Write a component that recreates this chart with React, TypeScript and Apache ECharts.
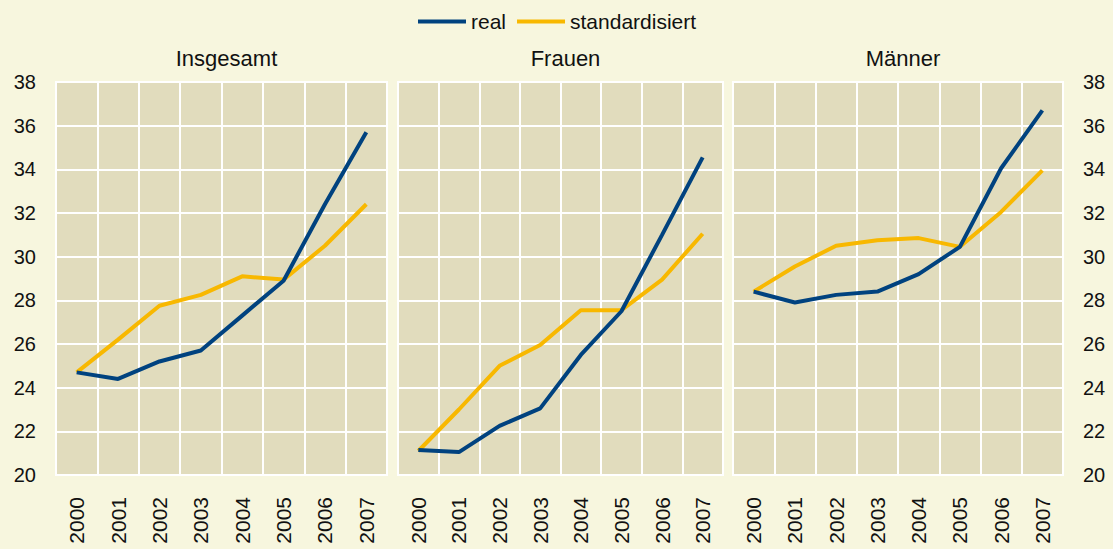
import React, { useEffect, useRef } from "react";
import * as echarts from "echarts";

const years = ["2000", "2001", "2002", "2003", "2004", "2005", "2006", "2007"];
const panelTitles = ["Insgesamt", "Frauen", "Männer"];
const seriesNames = ["real", "standardisiert"];

const insgesamtReal = [24.7, 24.4, 25.2, 25.7, 27.3, 28.9, 32.4, 35.7];
const insgesamtStd = [24.7, 26.2, 27.75, 28.25, 29.1, 28.95, 30.5, 32.4];
const frauenReal = [21.15, 21.05, 22.25, 23.05, 25.5, 27.5, 31.0, 34.55];
const frauenStd = [21.1, 23.0, 25.0, 25.95, 27.55, 27.55, 28.95, 31.05];
const maennerReal = [28.4, 27.9, 28.25, 28.4, 29.2, 30.45, 34.05, 36.7];
const maennerStd = [28.4, 29.55, 30.5, 30.75, 30.85, 30.45, 32.05, 33.95];

const BG = "#f7f6de";
const PLOT = "#e1dcbd";
const NAVY = "#00427f";
const GOLD = "#f8b800";
const FONT = "Liberation Sans, Arial, sans-serif";

export default function App() {
  const ref = useRef<HTMLDivElement>(null);
  useEffect(() => {
    if (!ref.current) return;
    const chart = echarts.init(ref.current, null, { renderer: "svg" });
    const grids = [
      { left: 56, width: 331 },
      { left: 398, width: 325 },
      { left: 733, width: 330 },
    ];
    const data = [
      [insgesamtReal, insgesamtStd],
      [frauenReal, frauenStd],
      [maennerReal, maennerStd],
    ];
    const option: any = {
      animation: false,
      backgroundColor: BG,
      textStyle: { fontFamily: FONT },
      legend: {
        top: 6,
        left: 413,
        icon: "rect",
        itemWidth: 48,
        itemHeight: 4,
        itemGap: 11,
        textStyle: { fontSize: 21, color: "#111", fontFamily: FONT },
        data: seriesNames,
      },
      title: grids.map((g, i) => ({
        text: panelTitles[i],
        left: g.left + g.width / 2,
        textAlign: "center",
        top: 42,
        textStyle: { fontSize: 22, fontWeight: "normal", color: "#111", fontFamily: FONT },
      })),
      grid: grids.map((g) => ({
        left: g.left,
        width: g.width,
        top: 82,
        bottom: 74,
        show: true,
        backgroundColor: PLOT,
        borderColor: "#ffffff",
        borderWidth: 2,
        containLabel: false,
      })),
      xAxis: grids.map((_, i) => ({
        type: "category",
        gridIndex: i,
        data: years,
        boundaryGap: true,
        axisLine: { show: false },
        axisTick: { show: false },
        axisLabel: { rotate: 90, fontSize: 21, color: "#111", margin: 22, fontFamily: FONT },
        splitLine: { show: true, lineStyle: { color: "#ffffff", width: 2 } },
      })),
      yAxis: grids.map((_, i) => ({
        type: "value",
        gridIndex: i,
        min: 20,
        max: 38,
        interval: 2,
        position: i === 2 ? "right" : "left",
        axisLine: { show: false },
        axisTick: { show: false },
        axisLabel: {
          show: i !== 1,
          fontSize: 20,
          color: "#111",
          margin: 20,
          fontFamily: FONT,
        },
        splitLine: { show: true, lineStyle: { color: "#ffffff", width: 2 } },
      })),
      series: data.flatMap((pair, i) =>
        pair.map((vals, j) => ({
          name: seriesNames[j],
          type: "line",
          xAxisIndex: i,
          yAxisIndex: i,
          data: vals,
          symbol: "none",
          lineStyle: { color: j === 0 ? NAVY : GOLD, width: 4 },
          itemStyle: { color: j === 0 ? NAVY : GOLD },
          z: j === 0 ? 3 : 2,
        }))
      ),
    };
    chart.setOption(option);
    return () => chart.dispose();
  }, []);
  return (
    <div
      ref={ref}
      style={{ position: "absolute", left: 0, top: 0, width: 1113, height: 549 }}
    />
  );
}
